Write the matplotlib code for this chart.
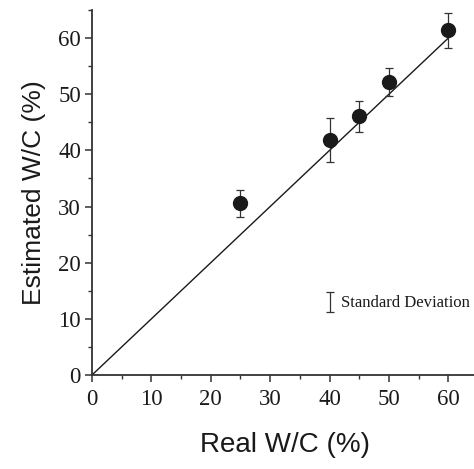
import matplotlib.pyplot as plt
from matplotlib.ticker import MultipleLocator

# data
real_wc = [25, 40, 45, 50, 60]
est_wc = [30.6, 41.9, 46.1, 52.2, 61.4]
err_low = [2.4, 3.9, 2.8, 2.5, 3.2]
err_high = [2.4, 3.9, 2.7, 2.5, 3.1]
ref_line_x = [0, 60]
ref_line_y = [0, 60]

fig = plt.figure(figsize=(4.74, 4.69), dpi=100)
ax = fig.add_axes([92/474, (469-375)/469, 386/474, 365/469])

ink = '#1a1a1a'
ax.plot(ref_line_x, ref_line_y, color=ink, lw=1.0)
ax.errorbar(real_wc, est_wc, yerr=[err_low, err_high], fmt='o', color=ink,
            ms=10, ecolor='#333333', elinewidth=0.9, capsize=3, capthick=0.9)

# "standard deviation" key
ax.errorbar([40], [13], yerr=[1.7], fmt='none', ecolor='#333333',
            elinewidth=0.9, capsize=3, capthick=0.9)
ax.text(41.9, 12.9, 'Standard Deviation', family='Liberation Serif',
        fontsize=12, va='center', ha='left', color=ink)

ax.set_xlim(0, 65)
ax.set_ylim(0, 65)
ax.xaxis.set_major_locator(MultipleLocator(10))
ax.yaxis.set_major_locator(MultipleLocator(10))
ax.xaxis.set_minor_locator(MultipleLocator(5))
ax.yaxis.set_minor_locator(MultipleLocator(5))

for s in ['top', 'right']:
    ax.spines[s].set_visible(False)
for s in ['left', 'bottom']:
    ax.spines[s].set_linewidth(1.3)
    ax.spines[s].set_color('#333333')

ax.tick_params(which='major', direction='out', length=5, width=1.1,
               colors='#333333', labelcolor=ink, labelsize=16.5)
ax.tick_params(axis='x', which='major', pad=5)
ax.tick_params(axis='y', which='major', pad=3)
ax.tick_params(which='minor', direction='out', length=3, width=1.0,
               colors='#333333')
for lbl in ax.get_xticklabels() + ax.get_yticklabels():
    lbl.set_family('Liberation Serif')

ax.set_xlabel('Real W/C (%)', family='Liberation Sans', fontsize=20,
              color=ink, labelpad=16)
ax.set_ylabel('Estimated W/C (%)', family='Liberation Sans', fontsize=19,
              color=ink, labelpad=9)

fig.savefig('out.png', dpi=100)
